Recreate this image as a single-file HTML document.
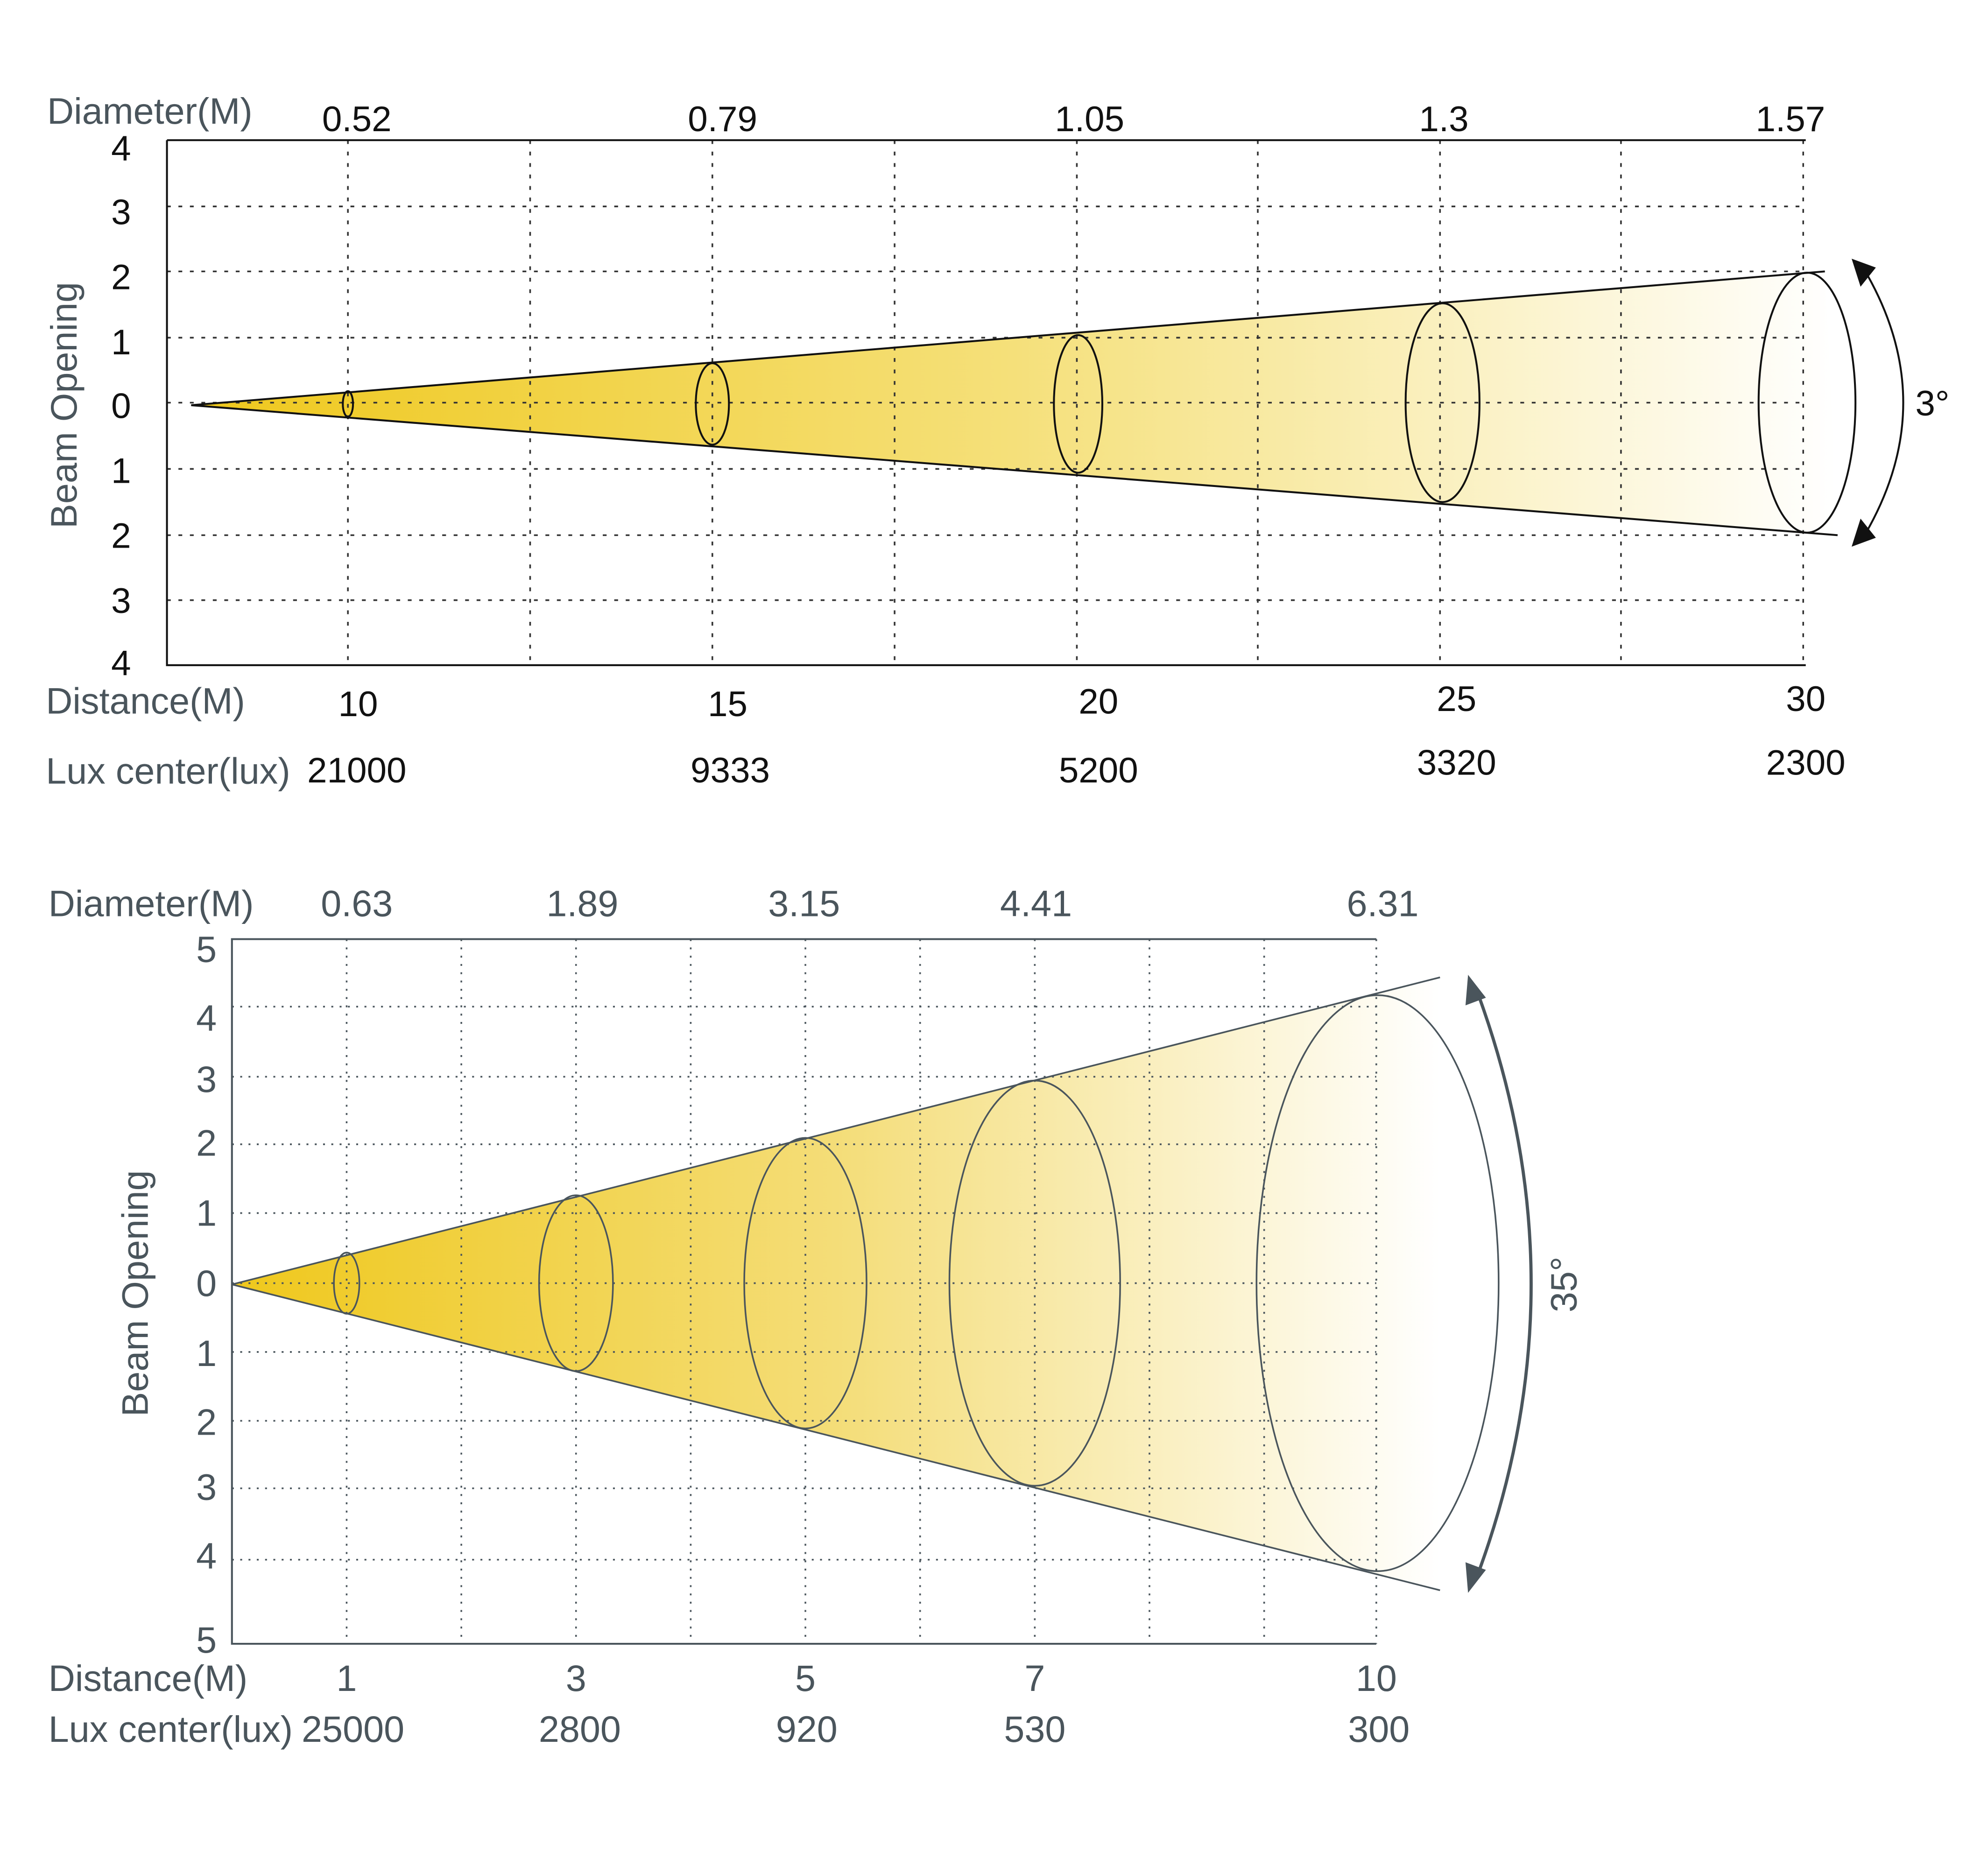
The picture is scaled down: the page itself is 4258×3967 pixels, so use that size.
<!DOCTYPE html>
<html><head><meta charset="utf-8"><style>html,body{margin:0;padding:0;background:#fff}svg{display:block}</style></head>
<body>
<svg width="4258" height="3967" viewBox="0 0 1560 1453.4" xmlns="http://www.w3.org/2000/svg" font-family="Liberation Sans, DejaVu Sans, sans-serif">
<defs>
<linearGradient id="g1" x1="150" y1="0" x2="1440" y2="0" gradientUnits="userSpaceOnUse">
<stop offset="0" stop-color="#efc81c"/><stop offset="0.5" stop-color="#f5e07a"/><stop offset="1" stop-color="#ffffff"/></linearGradient>
<linearGradient id="g2" x1="182" y1="0" x2="1130" y2="0" gradientUnits="userSpaceOnUse">
<stop offset="0" stop-color="#efc81c"/><stop offset="0.5" stop-color="#f4dd78"/><stop offset="1" stop-color="#ffffff"/></linearGradient>
</defs>
<rect width="1560" height="1453.4" fill="#fff"/>
<!-- TOP CHART -->
<polygon points="150,318 1432,213 1442,420" fill="url(#g1)"/>
<g stroke="#333" stroke-width="1.3" stroke-dasharray="3,6">
<line x1="131" y1="162" x2="1417" y2="162"/><line x1="131" y1="213" x2="1417" y2="213"/>
<line x1="131" y1="265" x2="1417" y2="265"/><line x1="131" y1="316" x2="1417" y2="316"/>
<line x1="131" y1="368" x2="1417" y2="368"/><line x1="131" y1="420" x2="1417" y2="420"/>
<line x1="131" y1="471" x2="1417" y2="471"/>
<line x1="273" y1="110" x2="273" y2="522"/><line x1="416" y1="110" x2="416" y2="522"/>
<line x1="559" y1="110" x2="559" y2="522"/><line x1="702" y1="110" x2="702" y2="522"/>
<line x1="845" y1="110" x2="845" y2="522"/><line x1="987" y1="110" x2="987" y2="522"/>
<line x1="1130" y1="110" x2="1130" y2="522"/><line x1="1272" y1="110" x2="1272" y2="522"/>
<line x1="1415" y1="110" x2="1415" y2="522"/>
</g>
<polyline points="131,110 1417,110" stroke="#111" stroke-width="1.5" fill="none"/>
<polyline points="131,110 131,522 1417,522" stroke="#111" stroke-width="1.5" fill="none"/>
<g stroke="#111" stroke-width="1.5" fill="none">
<line x1="150" y1="318" x2="1432" y2="213"/><line x1="150" y1="318" x2="1442" y2="420"/>
<ellipse cx="273" cy="317" rx="4" ry="10"/><ellipse cx="559" cy="317" rx="13" ry="32"/>
<ellipse cx="846" cy="317" rx="19" ry="54"/><ellipse cx="1132" cy="316" rx="29" ry="78"/>
<ellipse cx="1418" cy="316" rx="38" ry="102"/>
<path d="M1462,210 Q1525,316 1462,422"/>
</g>
<polygon points="1453,203 1472,210 1460,225" fill="#111"/>
<polygon points="1453,429 1472,422 1460,407" fill="#111"/>
<text x="1503" y="326" font-size="28" fill="#111">3°</text>
<g font-size="29" fill="#4a555c">
<text x="37" y="97">Diameter(M)</text>
<text x="36" y="560">Distance(M)</text>
<text x="36" y="615">Lux center(lux)</text>
<text transform="translate(60,318) rotate(-90)" text-anchor="middle">Beam Opening</text>
</g>
<g font-size="28" fill="#111" text-anchor="middle">
<text x="280" y="103">0.52</text><text x="567" y="103">0.79</text><text x="855" y="103">1.05</text>
<text x="1133" y="103">1.3</text><text x="1405" y="103">1.57</text>
<text x="95" y="126">4</text><text x="95" y="176">3</text><text x="95" y="227">2</text>
<text x="95" y="278">1</text><text x="95" y="328">0</text><text x="95" y="379">1</text>
<text x="95" y="430">2</text><text x="95" y="481">3</text><text x="95" y="530">4</text>
<text x="281" y="562">10</text><text x="571" y="562">15</text><text x="862" y="560">20</text>
<text x="1143" y="558">25</text><text x="1417" y="558">30</text>
<text x="280" y="614">21000</text><text x="573" y="614">9333</text><text x="862" y="614">5200</text>
<text x="1143" y="608">3320</text><text x="1417" y="608">2300</text>
</g>
<!-- BOTTOM CHART -->
<polygon points="182,1008 1130,767 1130,1248" fill="url(#g2)"/>
<g stroke="#4a555c" stroke-width="1.3" stroke-dasharray="1.5,5">
<line x1="182" y1="790" x2="1080" y2="790"/><line x1="182" y1="845" x2="1080" y2="845"/>
<line x1="182" y1="898" x2="1080" y2="898"/><line x1="182" y1="952" x2="1080" y2="952"/>
<line x1="182" y1="1007" x2="1080" y2="1007"/><line x1="182" y1="1061" x2="1080" y2="1061"/>
<line x1="182" y1="1115" x2="1080" y2="1115"/><line x1="182" y1="1168" x2="1080" y2="1168"/>
<line x1="182" y1="1224" x2="1080" y2="1224"/>
<line x1="272" y1="737" x2="272" y2="1290"/><line x1="362" y1="737" x2="362" y2="1290"/>
<line x1="452" y1="737" x2="452" y2="1290"/><line x1="542" y1="737" x2="542" y2="1290"/>
<line x1="632" y1="737" x2="632" y2="1290"/><line x1="722" y1="737" x2="722" y2="1290"/>
<line x1="812" y1="737" x2="812" y2="1290"/><line x1="902" y1="737" x2="902" y2="1290"/>
<line x1="992" y1="737" x2="992" y2="1290"/><line x1="1080" y1="737" x2="1080" y2="1290"/>
</g>
<polyline points="1080,737 182,737 182,1290 1080,1290" stroke="#4a555c" stroke-width="1.5" fill="none"/>
<g stroke="#4a555c" stroke-width="1.3" fill="none">
<line x1="182" y1="1008" x2="1130" y2="767"/><line x1="182" y1="1008" x2="1130" y2="1248"/>
<ellipse cx="272" cy="1007" rx="10" ry="24"/><ellipse cx="452" cy="1007" rx="29" ry="69"/>
<ellipse cx="632" cy="1007" rx="48" ry="114"/><ellipse cx="812" cy="1007" rx="67" ry="159"/>
<ellipse cx="1081" cy="1007" rx="95" ry="226"/>
<path d="M1158,775 Q1245,1008 1158,1240" stroke-width="2.5"/>
</g>
<polygon points="1152,765 1166,783 1150,789" fill="#4a555c"/>
<polygon points="1152,1250 1166,1232 1150,1226" fill="#4a555c"/>
<g font-size="29" fill="#4a555c">
<text transform="translate(1237,1008) rotate(-90)" text-anchor="middle">35°</text>
<text x="38" y="719">Diameter(M)</text>
<text x="38" y="1327">Distance(M)</text>
<text x="38" y="1367">Lux center(lux)</text>
<text transform="translate(116,1015) rotate(-90)" text-anchor="middle">Beam Opening</text>
</g>
<g font-size="29" fill="#4a555c" text-anchor="middle">
<text x="280" y="719">0.63</text><text x="457" y="719">1.89</text><text x="631" y="719">3.15</text>
<text x="813" y="719">4.41</text><text x="1085" y="719">6.31</text>
<text x="162" y="755">5</text><text x="162" y="809">4</text><text x="162" y="857">3</text>
<text x="162" y="907">2</text><text x="162" y="962">1</text><text x="162" y="1017">0</text>
<text x="162" y="1072">1</text><text x="162" y="1126">2</text><text x="162" y="1177">3</text>
<text x="162" y="1231">4</text><text x="162" y="1297">5</text>
<text x="272" y="1327">1</text><text x="452" y="1327">3</text><text x="632" y="1327">5</text>
<text x="812" y="1327">7</text><text x="1080" y="1327">10</text>
<text x="277" y="1367">25000</text><text x="455" y="1367">2800</text><text x="633" y="1367">920</text>
<text x="812" y="1367">530</text><text x="1082" y="1367">300</text>
</g>
</svg>
</body></html>
